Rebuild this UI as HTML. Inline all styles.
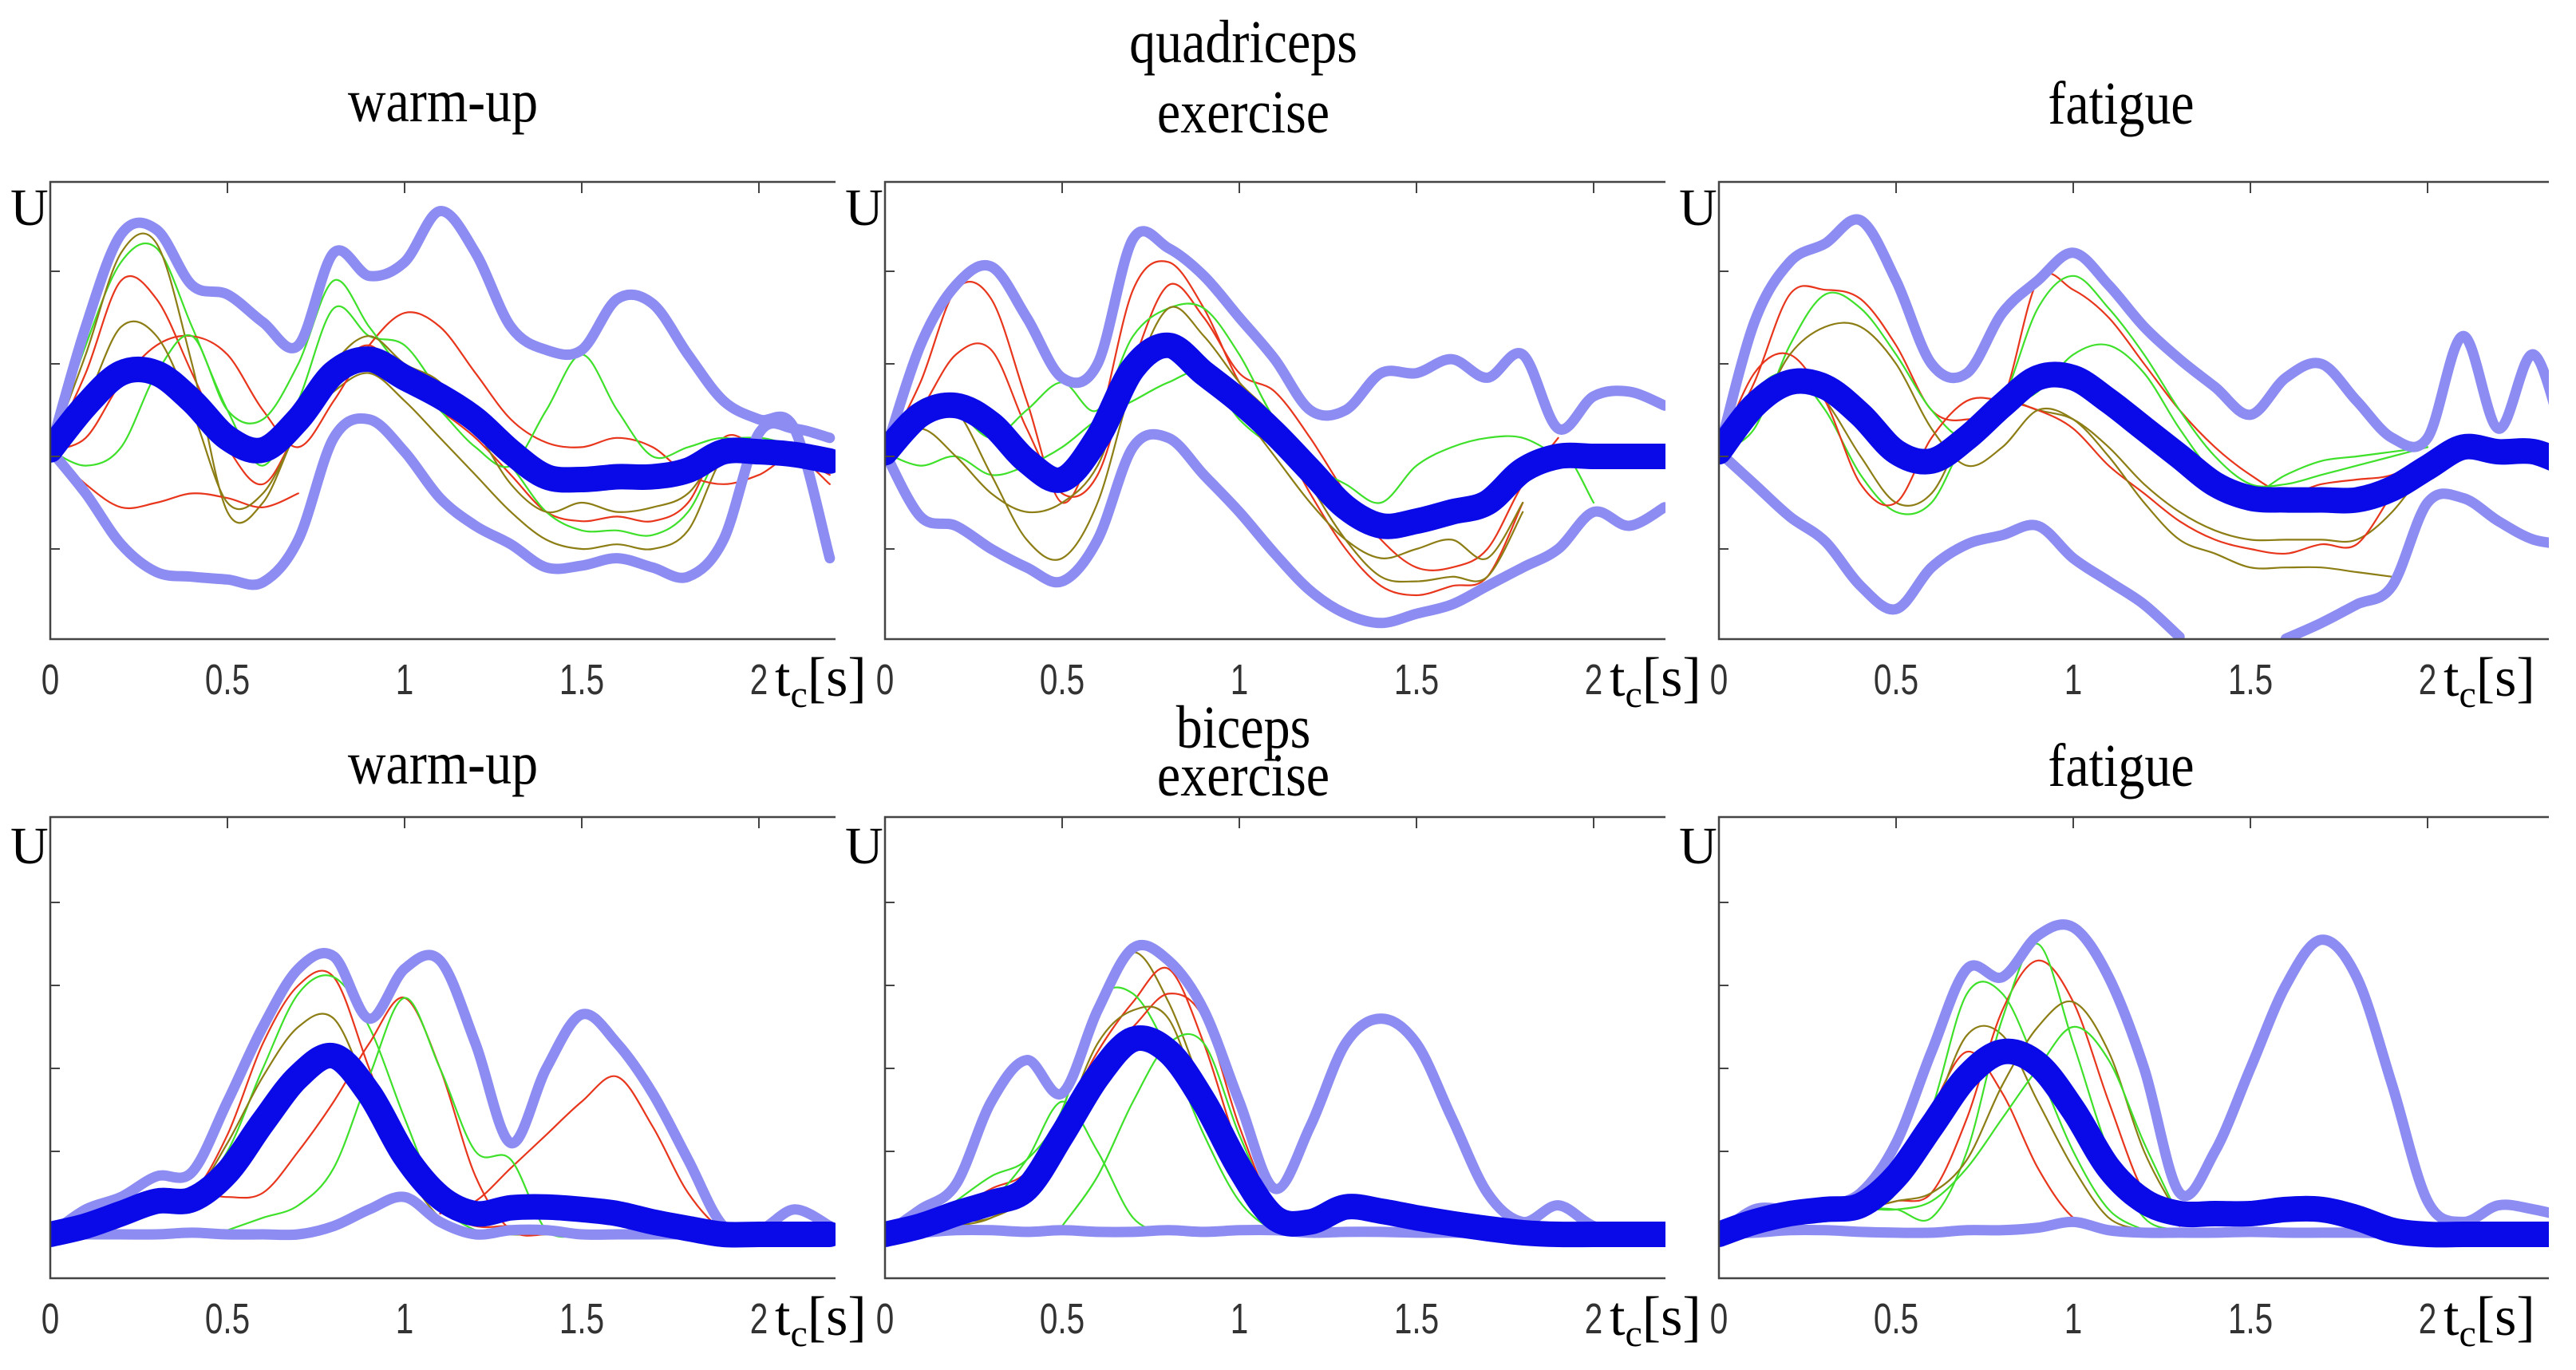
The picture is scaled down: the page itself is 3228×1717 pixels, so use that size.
<!DOCTYPE html>
<html><head><meta charset="utf-8"><style>
html,body{margin:0;padding:0;background:#fff;}
svg{display:block;}
.ttl{font-family:"Liberation Serif",serif;font-size:66px;fill:#000;}
.tk{font-family:"Liberation Sans",sans-serif;font-size:54px;fill:#333;}
.ser{font-family:"Liberation Serif",serif;fill:#000;}
</style></head><body>
<svg id="fig" width="3228" height="1717" viewBox="0 0 3228 1717" xmlns="http://www.w3.org/2000/svg"></svg>
<script>
// ---- data (values in tick units; index i => t = i*0.1 s) ----
const xTickLabels = ["0","0.5","1","1.5","2"];
const xTickValues = [0,0.5,1,1.5,2];
const topYTicks = [2,1,0,-1];
const botYTicks = [1,2,3,4];
const panelTitles = [["warm-up"],["quadriceps","exercise"],["fatigue"],["warm-up"],["biceps","exercise"],["fatigue"]];

// top warm-up
const q1Mean = [0.07,0.55,0.9,0.9,0.6,0.2,0.07,0.4,0.9,1.05,0.85,0.65,0.4,0.05,-0.22,-0.25,-0.22,-0.22,-0.15,0.05,0.05,0.02,-0.05];
const q1Up = [0.07,1.4,2.4,2.45,1.85,1.75,1.45,1.2,2.2,1.95,2.1,2.65,2.2,1.4,1.15,1.15,1.7,1.65,1.1,0.6,0.4,0.3,-1.1];
const q1Lo = [0.07,-0.4,-0.95,-1.25,-1.3,-1.33,-1.36,-0.9,0.2,0.4,0.05,-0.45,-0.75,-0.95,-1.2,-1.18,-1.1,-1.2,-1.3,-0.9,0.25,0.3,0.2];
const q1R1 = [0.07,0.9,1.9,1.7,0.9,0.1,-0.3,0.3,0.9,1.2,0.8,0.5,0.2,-0.2,-0.6,-0.7,-0.65,-0.7,-0.5,0.2,0.1,0.0,-0.2];
const q1G1 = [0.07,1.2,2.1,2.25,1.4,0.5,-0.1,0.6,1.6,1.3,1.2,0.7,0.3,-0.1,-0.6,-0.8,-0.8,-0.85,-0.6,0.1,0.2,0.1,0.0];
const q1O1 = [0.07,1.1,2.2,2.3,1.0,-0.6,-0.5,0.3,0.7,0.9,0.6,0.2,-0.2,-0.6,-0.9,-1.0,-0.95,-1.0,-0.8,0.0,0.15,0.1,0.0];
const q1R2 = [0.07,-0.3,-0.55,-0.5,-0.4,-0.45,-0.55,-0.4];
const q1R3 = [0.07,0.2,0.8,1.2,1.3,1.1,0.5,0.1,0.6,1.2,1.55,1.4,0.9,0.4,0.15,0.1,0.2,0.1,-0.2,-0.3,-0.2,0.0,-0.3];
const q1G2 = [0.07,-0.1,0.1,0.9,1.3,0.5,0.4,1.0,1.9,1.4,0.9,0.5,0.1,-0.1,0.5,1.1,0.5,0.0,0.1,0.2,0.1,0.0,0.0];
const q1O2 = [0.07,0.6,1.4,1.3,0.5,-0.5,-0.4,0.3,1.0,1.3,1.0,0.8,0.3,-0.3,-0.6,-0.5,-0.6,-0.55,-0.4,0.1,0.2];
// top exercise
const q2Mean = [0.04,0.45,0.55,0.35,-0.05,-0.25,0.2,0.95,1.2,0.9,0.6,0.25,-0.15,-0.55,-0.75,-0.7,-0.6,-0.5,-0.15,0.0,0.0,0.0,0.0];
const q2Up = [0.04,1.2,1.85,2.05,1.5,0.85,1.0,2.35,2.25,1.95,1.5,1.05,0.5,0.5,0.9,0.9,1.05,0.85,1.1,0.3,0.65,0.7,0.55];
const q2Lo = [0.04,-0.65,-0.75,-1.0,-1.2,-1.35,-0.9,0.1,0.2,-0.2,-0.6,-1.05,-1.45,-1.7,-1.8,-1.7,-1.6,-1.4,-1.2,-1.0,-0.6,-0.75,-0.55];
const q2R1 = [0.04,0.8,1.8,1.7,0.6,-0.5,0.3,1.8,2.1,1.6,0.8,0.3,-0.4,-1.0,-1.4,-1.5,-1.4,-1.3,-0.5];
const q2R2 = [0.04,0.5,1.1,1.15,0.3,-0.4,-0.2,1.0,1.85,1.5,0.9,0.7,0.2,-0.4,-0.9,-1.2,-1.2,-1.0,-0.3,0.2];
const q2G1 = [0.04,-0.1,0.0,-0.2,-0.1,0.1,0.4,0.6,0.8,0.9,0.4,0.1,-0.1,-0.3,-0.5,-0.1,0.1,0.2,0.2,0.0];
const q2G2 = [0.04,0.6,0.5,0.2,0.5,0.8,0.5,1.3,1.6,1.6,1.1,0.4,0.0,-0.5,-0.7,-0.8,-0.7,-0.6,-0.3,0.1,-0.5];
const q2O1 = [0.04,0.6,0.5,-0.2,-0.9,-1.1,-0.5,0.8,1.6,1.3,0.8,0.4,-0.3,-0.9,-1.3,-1.35,-1.3,-1.3,-0.6];
const q2O2 = [0.04,0.3,0.0,-0.4,-0.6,-0.5,-0.1,0.9,1.2,1.0,0.5,0.0,-0.5,-0.9,-1.1,-1.0,-0.9,-1.1,-0.5];
// top fatigue
const q3Mean = [0.05,0.55,0.8,0.75,0.45,0.05,-0.05,0.2,0.55,0.85,0.85,0.6,0.3,0.0,-0.3,-0.45,-0.47,-0.47,-0.47,-0.35,-0.12,0.1,0.05,0.05,-0.1];
const q3Up = [0.05,1.45,2.1,2.3,2.55,1.9,1.0,0.9,1.55,1.9,2.2,1.85,1.4,1.05,0.75,0.45,0.85,1.0,0.6,0.2,0.2,1.3,0.3,1.1,-0.05];
const q3Lo = [0.05,-0.3,-0.65,-0.92,-1.4,-1.65,-1.2,-0.95,-0.85,-0.75,-1.1,-1.35,-1.6,-1.95,null,null,-1.97,-1.8,-1.6,-1.4,-0.5,-0.45,-0.7,-0.9,-0.95];
const q3R1 = [0.05,0.8,1.75,1.8,1.7,1.2,0.5,0.4,0.6,1.9,1.8,1.5,1.0,0.5,0.1,-0.2,-0.4,-0.3,-0.25,-0.2,0.0];
const q3G1 = [0.05,0.3,1.2,1.75,1.6,1.1,0.5,0.2,0.6,1.6,1.95,1.6,1.1,0.5,0.0,-0.3,-0.3,-0.2,-0.1,0.0,0.1];
const q3O1 = [0.05,0.6,0.9,0.6,0.0,-0.5,-0.4,0.3,0.6,0.5,0.4,0.1,-0.3,-0.6,-0.8,-0.9,-0.9,-0.9,-0.9,-0.6,-0.1];
const q3G2 = [0.05,0.7,0.9,0.5,-0.2,-0.6,-0.5,0.2,0.5,0.7,1.1,1.2,0.9,0.3,-0.2,-0.4,-0.2,-0.05,0.0,0.05,0.1];
const q3R2 = [0.05,0.9,1.1,0.6,-0.3,-0.5,0.2,0.6,0.6,0.5,0.3,-0.1,-0.4,-0.7,-0.9,-1.0,-1.05,-0.95,-0.95,-0.4];
const q3O2 = [0.05,0.4,1.1,1.4,1.4,1.0,0.3,-0.1,0.1,0.5,0.4,0.0,-0.5,-0.9,-1.05,-1.2,-1.2,-1.2,-1.25,-1.3];
// bottom warm-up
const b1Mean = [0,0.1,0.25,0.4,0.42,0.75,1.35,1.9,2.15,1.7,0.95,0.45,0.25,0.32,0.33,0.3,0.25,0.15,0.07,0,0,0,0];
const b1Up = [0,0.3,0.45,0.7,0.75,1.6,2.5,3.2,3.35,2.6,3.2,3.3,2.3,1.1,2.0,2.65,2.3,1.7,0.9,0.1,0.05,0.3,0.1];
const b1Lo = [0,0,0,0,0.02,0,0,0,0.1,0.3,0.45,0.15,0,0.05,0.05,0,0,0,0,0,0,0,0];
const b1R1 = [0,0.05,0.1,0.5,0.5,1.2,2.3,3.0,3.1,2.0,0.9,0.3,0.1,0.1,0.05,0.02,0,0,0];
const b1G1 = [0,0.05,0.1,0.4,0.5,1.0,2.0,2.9,3.1,2.5,1.4,0.4,0.05,0,0,0];
const b1O1 = [0,0.05,0.15,0.3,0.45,1.1,1.9,2.5,2.6,1.7,0.8,0.2,0.05,0,0];
const b1R2 = [0,0.05,0.1,0.4,0.5,0.45,0.5,1.0,1.6,2.3,2.85,2.0,0.7,0.05,0];
const b1R3 = [null,null,null,null,null,null,null,null,null,null,null,0.25,0.4,0.8,1.2,1.6,1.9,1.3,0.5,0.05,0];
const b1G2 = [null,null,null,null,null,0.05,0.2,0.35,0.8,1.9,2.85,2.0,1.0,0.9,0.05,0];
// bottom exercise
const b2Mean = [0,0.1,0.25,0.38,0.55,1.2,1.9,2.35,2.2,1.6,0.8,0.2,0.15,0.33,0.28,0.2,0.13,0.07,0.02,0,0,0,0];
const b2Up = [0,0.3,0.6,1.6,2.1,1.7,2.7,3.45,3.3,2.7,1.6,0.55,1.3,2.3,2.6,2.3,1.4,0.5,0.15,0.35,0.1,0.05,0];
const b2Lo = [0,0.02,0.05,0.05,0.03,0.05,0.03,0.03,0.05,0.03,0.05,0.05,0.02,0.03,0.03,0.02,0.02,0.01,0,0,0,0,0];
const b2O1 = [0,0.05,0.15,0.2,0.5,1.5,2.7,3.4,2.8,1.7,0.6,0.1,0,0];
const b2R1 = [0,0.1,0.3,0.55,0.75,1.4,2.2,2.8,3.2,2.3,1.0,0.2,0.05,0];
const b2G1 = [0,0.1,0.4,0.7,0.9,1.5,2.8,2.9,2.2,1.2,0.4,0.05,0];
const b2G2 = [0,0.05,0.1,0.4,0.9,1.6,1.0,0.2,0.0];
const b2G3 = [null,null,null,null,null,0.1,0.7,1.6,2.3,2.3,1.2,0.3,0.05,0];
const b2R2 = [0,0.05,0.2,0.35,0.5,1.3,2.1,2.5,2.9,2.6,1.3,0.3,0.0];
const b2O2 = [0,0.05,0.1,0.2,0.5,1.3,2.3,2.7,2.6,1.5,0.6,0.1,0];
// bottom fatigue
const b3Mean = [0,0.15,0.25,0.3,0.35,0.7,1.3,1.9,2.2,2.05,1.5,0.8,0.4,0.25,0.25,0.25,0.3,0.3,0.2,0.05,0,0,0,0,0];
const b3Up = [0,0.3,0.3,0.35,0.5,1.1,2.2,3.2,3.1,3.6,3.7,3.1,2.0,0.5,1.0,2.0,3.0,3.55,3.1,1.8,0.4,0.15,0.35,0.3,0.2];
const b3Lo = [0,0.02,0.05,0.05,0.03,0.02,0.02,0.05,0.05,0.08,0.15,0.05,0.02,0.02,0.02,0.03,0.02,0.02,0.02,0.01,0,0,0,0,0];
const b3G1 = [0,0.1,0.15,0.2,0.3,0.5,1.5,2.9,2.9,2.0,1.0,0.3,0.05];
const b3R1 = [0,0.1,0.15,0.2,0.35,0.6,1.5,2.2,1.7,0.8,0.2,0.05];
const b3O1 = [0,0.1,0.15,0.2,0.3,0.5,1.4,2.4,2.4,1.6,0.8,0.2,0.05];
const b3R2 = [0,0.1,0.15,0.2,0.3,0.4,0.5,1.4,2.7,3.3,2.8,1.6,0.5,0.1];
const b3G2 = [0,0.1,0.15,0.2,0.3,0.3,0.2,1.0,2.6,3.5,2.3,1.0,0.2,0.05];
const b3O2 = [0,0.1,0.15,0.2,0.3,0.4,0.5,0.9,1.8,2.5,2.8,2.2,1.0,0.2];
const b3G3 = [0,0.1,0.15,0.2,0.3,0.3,0.4,0.8,1.4,2.0,2.5,2.1,1.1,0.2];

const RED="#e8361c", GRN="#3ee02a", OLV="#8c7d14";
const panelThin = [
 [[q1R1,RED],[q1G1,GRN],[q1O1,OLV],[q1R2,RED],[q1R3,RED],[q1G2,GRN],[q1O2,OLV]],
 [[q2R1,RED],[q2R2,RED],[q2G1,GRN],[q2G2,GRN],[q2O1,OLV],[q2O2,OLV]],
 [[q3R1,RED],[q3G1,GRN],[q3O1,OLV],[q3G2,GRN],[q3R2,RED],[q3O2,OLV]],
 [[b1R1,RED],[b1G1,GRN],[b1O1,OLV],[b1R2,RED],[b1R3,RED],[b1G2,GRN]],
 [[b2O1,OLV],[b2R1,RED],[b2G1,GRN],[b2G2,GRN],[b2G3,GRN],[b2R2,RED],[b2O2,OLV]],
 [[b3G1,GRN],[b3R1,RED],[b3O1,OLV],[b3R2,RED],[b3G2,GRN],[b3O2,OLV],[b3G3,GRN]]
];
const panelEnv = [[q1Up,q1Lo],[q2Up,q2Lo],[q3Up,q3Lo],[b1Up,b1Lo],[b2Up,b2Lo],[b3Up,b3Lo]];
const panelMean = [q1Mean,q2Mean,q3Mean,b1Mean,b2Mean,b3Mean];

// ---- layout ----
const NS="http://www.w3.org/2000/svg";
const svg=document.getElementById('fig');
const colX=[63,1109,2154], colW=[984,978,1040];
const titleDx=[0,-40,-16];
const rows=[{top:228,bot:801,zero:572,unit:116,ticks:topYTicks,lab:850,U:282},
            {top:1024,bot:1602,zero:1547,unit:104,ticks:botYTicks,lab:1651,U:1082}];
const titleY=[[[152]],[[78],[166]],[[155]]];
const titleYb=[[[982]],[[937],[997]],[[985]]];
const pxPerSec=444;

function mk(tag,attrs,parent){const e=document.createElementNS(NS,tag);for(const k in attrs)e.setAttribute(k,attrs[k]);(parent||svg).appendChild(e);return e;}
function pathFrom(pts){
  let d="";let seg=[];
  const flush=()=>{ if(seg.length<2){seg=[];return;}
    d+="M"+seg[0][0].toFixed(1)+","+seg[0][1].toFixed(1);
    for(let i=0;i<seg.length-1;i++){const p0=seg[Math.max(0,i-1)],p1=seg[i],p2=seg[i+1],p3=seg[Math.min(seg.length-1,i+2)];
      const c1=[p1[0]+(p2[0]-p0[0])/6,p1[1]+(p2[1]-p0[1])/6],c2=[p2[0]-(p3[0]-p1[0])/6,p2[1]-(p3[1]-p1[1])/6];
      d+="C"+c1[0].toFixed(1)+","+c1[1].toFixed(1)+" "+c2[0].toFixed(1)+","+c2[1].toFixed(1)+" "+p2[0].toFixed(1)+","+p2[1].toFixed(1);}
    seg=[];};
  pts.forEach(p=>{if(p===null)flush();else seg.push(p);});flush();return d;
}

for(let p=0;p<6;p++){
  const r=rows[Math.floor(p/3)], c=p%3;
  const x0=colX[c], w=colW[c];
  const xs=t=>x0+t*pxPerSec, ys=v=>r.zero-v*r.unit;
  const g=mk('g',{});
  
  
  const cid='clip'+p;
  const cp=mk('clipPath',{id:cid},g);mk('rect',{x:x0,y:r.top,width:w,height:r.bot-r.top},cp);
  const ty=(Math.floor(p/3)===0?titleY:titleYb)[c];
  panelTitles[p].forEach((s,i)=>{const t=mk('text',{class:'ttl','text-anchor':'middle',transform:`translate(${x0+w/2+titleDx[c]},${ty[i][0]}) scale(1,1.15)`},g);t.textContent=s;
    
    });
  const u=mk('text',{class:'ser','font-size':66,x:x0-50,y:r.U},g);u.textContent="U";
  
  
  const data=mk('g',{'clip-path':`url(#${cid})`,fill:'none','stroke-linejoin':'round','stroke-linecap':'round'},g);
  const toPts=arr=>arr.map((v,i)=>v===null?null:[xs(i*0.1),ys(v)]);
  panelThin[p].forEach(([arr,col])=>{const e=mk('path',{d:pathFrom(toPts(arr)),stroke:col,'stroke-width':2.2},data);
    
    });
  panelEnv[p].forEach((arr,k)=>{const e=mk('path',{d:pathFrom(toPts(arr)),stroke:'#8c8cf2','stroke-width':13},data);
    
    });
  const m=mk('path',{d:pathFrom(toPts(panelMean[p])),stroke:'#0a0ae8','stroke-width':32},data);
  
  
  const ax=mk('path',{d:`M${x0+w},${r.top}H${x0}V${r.bot}H${x0+w}`,fill:'none',stroke:'#444','stroke-width':2.5},g);
  
  
  r.ticks.forEach(v=>{mk('line',{x1:x0,x2:x0+12,y1:ys(v),y2:ys(v),stroke:'#444','stroke-width':2},g);});
  xTickValues.forEach((t,i)=>{const X=xs(t);
    mk('line',{x1:X,x2:X,y1:r.top,y2:r.top+14,stroke:'#444','stroke-width':2},g);
    const tl=mk('text',{class:'tk','text-anchor':'middle',transform:`translate(${X},${r.lab+20}) scale(0.75,1)`},g);tl.textContent=xTickLabels[i];
    
    });
  const xt=mk('text',{class:'ser','font-size':70,x:xs(2)+20,y:r.lab+22},g);
  
  
  const s1=mk('tspan',{},xt);s1.textContent="t";
  const s2=mk('tspan',{'font-size':48,dy:14},xt);s2.textContent="c";
  const s3=mk('tspan',{dy:-14},xt);s3.textContent="[s]";
}
</script>
</body></html>
